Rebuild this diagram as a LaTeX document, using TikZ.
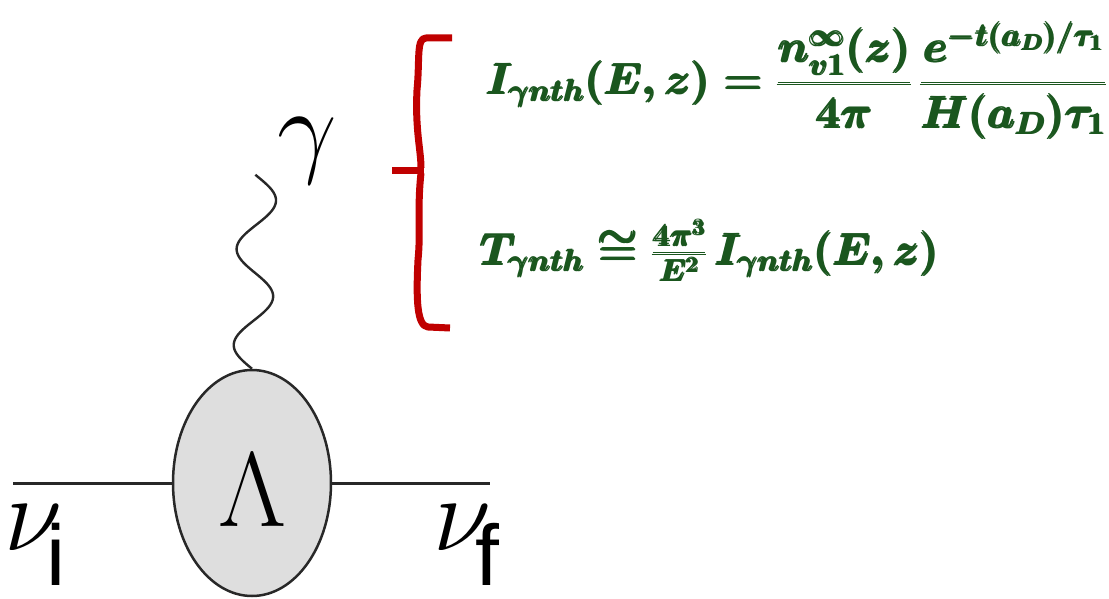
\documentclass[tikz,border=0pt]{standalone}
\usepackage{fix-cm}
\usepackage{amsmath}
\usepackage{fontspec}
\newfontfamily\lsans{Liberation Sans}
\usetikzlibrary{shapes.geometric}
\definecolor{eqgreen}{RGB}{26,86,30}
\definecolor{bracered}{RGB}{192,0,0}
\definecolor{linegray}{RGB}{40,40,40}
\definecolor{blobfill}{RGB}{222,222,222}
\begin{document}
\begin{tikzpicture}[x=1pt,y=-1pt,
  fline/.style={draw=linegray, line width=3pt},
  blob/.style={ellipse, draw=linegray, line width=2.5pt, fill=blobfill,
    minimum width=158pt, minimum height=226pt, inner sep=0pt},
  photon/.style={draw=linegray, line width=2.4pt},
  biglbl/.style={inner sep=0pt, anchor=base, font=\fontsize{106}{110}\selectfont},
  sublbl/.style={inner sep=0pt, anchor=base, text depth=0pt, font=\lsans\fontsize{86}{88}\selectfont},
  eq/.style={text=eqgreen, anchor=base west, inner sep=0pt, font=\fontsize{44}{48}\selectfont\boldmath},
  bracestroke/.style={draw=bracered, line width=7pt, line join=round}]
\useasboundingbox (0,0) rectangle (1109,599);
% Feynman diagram
\node[blob] (lam) at (252,483) {};
\node[biglbl] (lamtxt) at (252,526) {$\Lambda$};
\coordinate (li) at (13,483);
\coordinate (lf) at (490,483);
\draw[fline] (li) -- (lam.west);
\draw[fline] (lam.east) -- (lf);
\draw[photon, shift={(lam.north)}] plot[smooth, domain=0:194, samples=80]
  ({-19*sin(\x*3.75)+0.03*\x},{-\x}) coordinate (gtop);
\node[biglbl] (gam) at (307,164) {$\gamma$};
\node[biglbl] (nui) at (33,550) {$\nu$};
\node[sublbl] (subi) at (56,585) {i};
\node[biglbl] (nuf) at (462,550) {$\nu$};
\node[sublbl] (subf) at (487,585) {f};
% brace
\draw[bracestroke] (452,38) -- (426,38) .. controls (416,38) and (420,60) .. (417,90)
  .. controls (415,130) and (421,150) .. (421,168);
\draw[bracestroke] (392,171) -- (424,171);
\draw[bracestroke] (421,173) .. controls (417,210) and (421,230) .. (418,260)
  .. controls (416,300) and (417,326) .. (428,327) -- (450,328);
% equations
\node[eq] (eq1) at (487,95) {$\pmb{\displaystyle I_{\gamma nth}(E,z)=\frac{n^{\infty}_{v1}(z)}{4\pi}\,\frac{e^{-t(a_D)/\tau_1}}{H(a_D)\tau_1}}$};
\node[eq] (eq2) at (481,265) {$\pmb{T_{\gamma nth}\cong\frac{4\pi^3}{E^2}\,I_{\gamma nth}(E,z)}$};
\end{tikzpicture}
\end{document}
